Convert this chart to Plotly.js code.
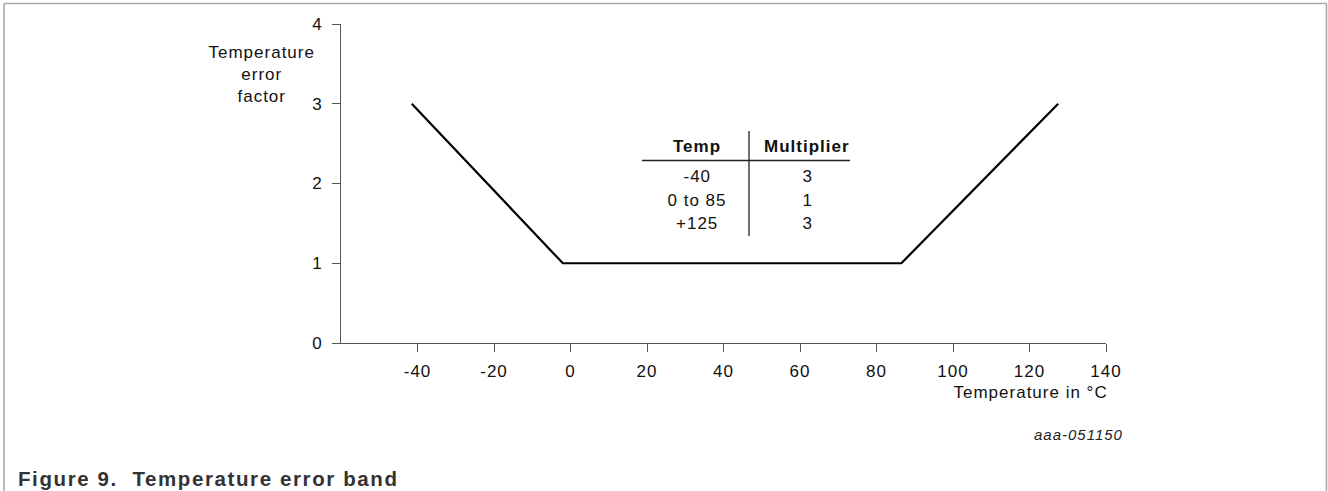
<!DOCTYPE html>
<html>
<head>
<meta charset="utf-8">
<script src="https://cdn.plot.ly/plotly-3.0.1.min.js"></script>
<style>
  html, body { margin: 0; padding: 0; background: #fff; }
  #chart { width: 1328px; height: 491px; }
  #chart text { letter-spacing: 1px; }
</style>
</head>
<body>
<div id="chart"></div>
<script>
// ---- data ----
const tempX = [-41.5, -2, 86.5, 127.5];
const factorY = [3, 1, 1, 3];
const xTicks = [-40, -20, 0, 20, 40, 60, 80, 100, 120, 140];
const yTicks = [0, 1, 2, 3, 4];
const tableHeaders = ['Temp', 'Multiplier'];
const tableTemps = ['-40', '0 to 85', '+125'];
const tableMults = ['3', '1', '3'];
const xTitle = 'Temperature in °C';
const yTitle = 'Temperature<br>error<br>factor';
const caption = 'Figure 9.  Temperature error band';
const docId = 'aaa-051150';

// ---- layout helpers (pixel -> paper) ----
const W = 1328, H = 491;
const M = { l: 341, r: 222, t: 24, b: 148 };
const PW = W - M.l - M.r, PH = H - M.t - M.b;
const px = x => (x - M.l) / PW;
const py = y => (H - M.b - y) / PH;

const FONT = 'Liberation Sans, Arial, Helvetica, sans-serif';
const fs = 17;

const annotations = [];
function addText(text, x, y, opts = {}) {
  annotations.push(Object.assign({
    text: text, xref: 'paper', yref: 'paper', x: px(x), y: py(y),
    xanchor: 'center', yanchor: 'middle', showarrow: false,
    font: { family: FONT, size: fs, color: '#111' }
  }, opts));
}

// y-axis title
addText(yTitle, 261, 75, { align: 'center' });
// x-axis title
addText(xTitle, 1101, 392, { xanchor: 'right' });
// doc id
addText('<i>' + docId + '</i>', 1121, 434, { xanchor: 'right', font: { family: FONT, size: 15, color: '#222' } });
// caption
addText('<span style="letter-spacing:1.6px"><b>' + caption + '</b></span>', 16, 478,
        { xanchor: 'left', font: { family: FONT, size: 20.5, color: '#333' } });

// table
const colX = [697, 807];
tableHeaders.forEach((h, i) => addText('<b>' + h + '</b>', colX[i], 146));
const rowY = [177, 200, 223];
tableTemps.forEach((t, i) => addText(t, colX[0], rowY[i]));
tableMults.forEach((m, i) => addText(m, colX[1], rowY[i]));

const shapes = [
  // table rules
  { type: 'line', xref: 'paper', yref: 'paper', x0: px(749), x1: px(749), y0: py(131), y1: py(236), line: { color: '#222', width: 1.3 } },
  { type: 'line', xref: 'paper', yref: 'paper', x0: px(642), x1: px(850), y0: py(160.5), y1: py(160.5), line: { color: '#222', width: 1.3 } },
  // figure frame (top, left, right)
  { type: 'line', xref: 'paper', yref: 'paper', x0: px(4), x1: px(1326.5), y0: py(3.5), y1: py(3.5), line: { color: '#aaa', width: 1.6 } },
  { type: 'line', xref: 'paper', yref: 'paper', x0: px(4), x1: px(4), y0: py(3.5), y1: py(491), line: { color: '#aaa', width: 1.6 } },
  { type: 'line', xref: 'paper', yref: 'paper', x0: px(1326.5), x1: px(1326.5), y0: py(3.5), y1: py(491), line: { color: '#aaa', width: 1.6 } }
];

const trace = {
  x: tempX, y: factorY, type: 'scatter', mode: 'lines',
  line: { color: '#000', width: 2.2 }, hoverinfo: 'skip', cliponaxis: false
};

const axisCommon = {
  showgrid: false, zeroline: false, showline: true, linecolor: '#555', linewidth: 1,
  ticks: 'outside', ticklen: 8, tickwidth: 1, tickcolor: '#555',
  tickfont: { family: FONT, size: fs, color: '#111' }, fixedrange: true
};

const layout = {
  width: W, height: H,
  margin: M,
  paper_bgcolor: '#fff', plot_bgcolor: '#fff',
  showlegend: false,
  xaxis: Object.assign({}, axisCommon, { range: [-60, 140], tickmode: 'array', tickvals: xTicks, ticktext: xTicks.map(String), ticklabelstandoff: 5 }),
  yaxis: Object.assign({}, axisCommon, { range: [0, 4], tickmode: 'array', tickvals: yTicks, ticktext: yTicks.map(String), ticklabelstandoff: 6 }),
  annotations: annotations,
  shapes: shapes
};

Plotly.newPlot('chart', [trace], layout, { staticPlot: true, displayModeBar: false });
</script>
</body>
</html>
